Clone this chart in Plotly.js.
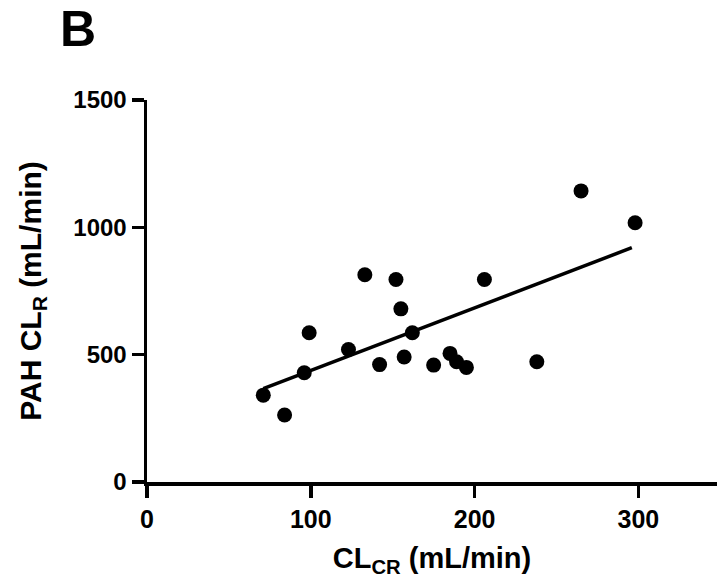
<!DOCTYPE html>
<html>
<head>
<meta charset="utf-8">
<script src="https://cdn.plot.ly/plotly-3.0.1.min.js"></script>
<style>html,body{margin:0;padding:0;background:#fff;}#chart{width:717px;height:583px;}</style>
</head>
<body>
<div id="chart"></div>
<script>
const clcr = [71, 84, 96, 99, 123, 133, 142, 152, 155, 157, 162, 175, 185, 189, 195, 206, 238, 265, 298];
const pahClr = [341, 263, 429, 586, 520, 814, 461, 795, 680, 491, 586, 459, 505, 472, 450, 795, 472, 1143, 1018];
const fitX = [71, 296];
const fitY = [367, 920];
const xTicks = [0, 100, 200, 300];
const yTicks = [0, 500, 1000, 1500];

const font = {family: 'Liberation Sans, Arial, sans-serif', color: '#000'};

const traces = [
  {x: clcr, y: pahClr, mode: 'markers', type: 'scatter',
   marker: {color: '#000', size: 15}, cliponaxis: false, hoverinfo: 'none'},
  {x: fitX, y: fitY, mode: 'lines', type: 'scatter',
   line: {color: '#000', width: 3.5}, hoverinfo: 'none'}
];

const layout = {
  width: 717, height: 583,
  margin: {l: 147, r: 0, t: 100, b: 101},
  paper_bgcolor: '#fff', plot_bgcolor: '#fff',
  showlegend: false,
  font: Object.assign({}, font, {size: 24}),
  xaxis: {
    range: [0, 348], tickvals: xTicks, ticktext: xTicks.map(String),
    showgrid: false, zeroline: false, showline: true, linecolor: '#000', linewidth: 3.5,
    ticks: 'outside', ticklen: 12, tickwidth: 3.5, tickcolor: '#000',
    tickfont: Object.assign({}, font, {size: 25, weight: 'bold'}),
    title: {text: '<b>CL<sub>CR</sub> (mL/min)</b>', font: Object.assign({}, font, {size: 29}), standoff: 17}
  },
  yaxis: {
    range: [0, 1500], tickvals: yTicks, ticktext: yTicks.map(String),
    showgrid: false, zeroline: false, showline: true, linecolor: '#000', linewidth: 3.5,
    ticks: 'outside', ticklen: 12, tickwidth: 3.5, tickcolor: '#000',
    tickfont: Object.assign({}, font, {size: 24, weight: 'bold'}),
    title: {text: '<b>PAH CL<sub>R</sub> (mL/min)</b>', font: Object.assign({}, font, {size: 30}), standoff: 24}
  },
  annotations: [
    {text: '<b>B</b>', xref: 'paper', yref: 'paper', x: -0.157, y: 1.185, xanchor: 'left', yanchor: 'middle',
     showarrow: false, font: Object.assign({}, font, {size: 50})}
  ]
};

Plotly.newPlot('chart', traces, layout, {displayModeBar: false, staticPlot: true});
</script>
</body>
</html>
